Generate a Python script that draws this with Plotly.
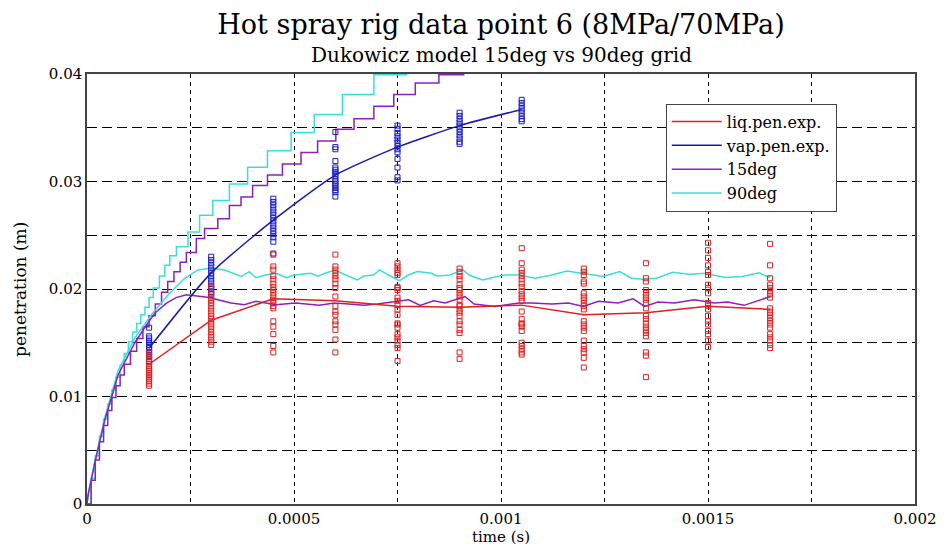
import plotly.graph_objects as go

# ---------------- data ----------------
exp_times = [0.00015, 0.0003, 0.00045, 0.0006, 0.00075, 0.0009, 0.00105,
             0.0012, 0.00135, 0.0015, 0.00165]

liq_mean = [0.0130, 0.0171, 0.0191, 0.0189, 0.0184, 0.0183, 0.0185,
            0.0176, 0.0178, 0.0184, 0.0181]

vap_times = [0.00015, 0.0003, 0.00045, 0.0006, 0.00075, 0.0009, 0.00105]
vap_mean = [0.0145, 0.0215, 0.0264, 0.0306, 0.0332, 0.0352, 0.0367]

liq_samples = [
    [0.0141, 0.0138, 0.0135, 0.0132, 0.0130, 0.0128, 0.0126, 0.0124, 0.0122,
     0.0120, 0.0118, 0.0116, 0.0114, 0.0112, 0.0110],
    [0.0202, 0.0196, 0.0193, 0.0190, 0.0187, 0.0184, 0.0181, 0.0178, 0.0175,
     0.0172, 0.0169, 0.0166, 0.0163, 0.0160, 0.0157, 0.0154, 0.0151, 0.0148],
    [0.0232, 0.0221, 0.0218, 0.0212, 0.0209, 0.0205, 0.0202, 0.0199, 0.0196,
     0.0193, 0.0190, 0.0187, 0.0184, 0.0182, 0.0170, 0.0165, 0.0158, 0.0147,
     0.0141],
    [0.0232, 0.0221, 0.0218, 0.0215, 0.0212, 0.0209, 0.0205, 0.0201, 0.0193,
     0.0184, 0.0179, 0.0176, 0.0170, 0.0167, 0.0162, 0.0153, 0.0141],
    [0.0224, 0.0221, 0.0218, 0.0215, 0.0213, 0.0202, 0.0201, 0.0199, 0.0192,
     0.0189, 0.0185, 0.0181, 0.0176, 0.0168, 0.0167, 0.0164, 0.0158, 0.0155,
     0.0152, 0.0148, 0.0145, 0.0133],
    [0.0219, 0.0216, 0.0212, 0.0209, 0.0204, 0.0201, 0.0199, 0.0196, 0.0193,
     0.0190, 0.0185, 0.0184, 0.0181, 0.0178, 0.0175, 0.0170, 0.0167, 0.0162,
     0.0159, 0.0141, 0.0135],
    [0.0238, 0.0224, 0.0218, 0.0215, 0.0212, 0.0209, 0.0205, 0.0202, 0.0198,
     0.0195, 0.0192, 0.0189, 0.0179, 0.0172, 0.0168, 0.0167, 0.0165, 0.0161,
     0.0150, 0.0147, 0.0144, 0.0141, 0.0139],
    [0.0219, 0.0216, 0.0213, 0.0207, 0.0205, 0.0196, 0.0193, 0.0190, 0.0187,
     0.0184, 0.0181, 0.0170, 0.0167, 0.0164, 0.0161, 0.0152, 0.0147, 0.0144,
     0.0141, 0.0136, 0.0127],
    [0.0224, 0.0210, 0.0207, 0.0199, 0.0196, 0.0193, 0.0190, 0.0187, 0.0182,
     0.0175, 0.0172, 0.0168, 0.0165, 0.0162, 0.0159, 0.0156, 0.0141, 0.0138,
     0.0118],
    [0.0243, 0.0236, 0.0229, 0.0222, 0.0216, 0.0213, 0.0204, 0.0201, 0.0196,
     0.0187, 0.0184, 0.0181, 0.0175, 0.0170, 0.0167, 0.0161, 0.0158, 0.0152,
     0.0146],
    [0.0242, 0.0222, 0.0210, 0.0204, 0.0201, 0.0198, 0.0195, 0.0192, 0.0182,
     0.0179, 0.0176, 0.0173, 0.0170, 0.0167, 0.0164, 0.0158, 0.0155, 0.0152,
     0.0148, 0.0145],
]

vap_samples = [
    [0.0164, 0.0156, 0.0154, 0.0152, 0.0150, 0.0148, 0.0146, 0.0145, 0.0143,
     0.0141, 0.0139, 0.0137, 0.0135, 0.0133],
    [0.0230, 0.0227, 0.0224, 0.0221, 0.0218, 0.0215, 0.0212, 0.0209, 0.0206,
     0.0203, 0.0200, 0.0197, 0.0195],
    [0.0284, 0.0281, 0.0278, 0.0275, 0.0272, 0.0269, 0.0266, 0.0263, 0.0260,
     0.0257, 0.0254, 0.0251, 0.0248, 0.0244, 0.0233],
    [0.0346, 0.0332, 0.0330, 0.0319, 0.0313, 0.0311, 0.0309, 0.0307, 0.0305,
     0.0302, 0.0300, 0.0298, 0.0296, 0.0294, 0.0292, 0.0290, 0.0286],
    [0.0352, 0.0349, 0.0345, 0.0342, 0.0339, 0.0336, 0.0333, 0.0330, 0.0327,
     0.0321, 0.0313, 0.0304, 0.0301],
    [0.0364, 0.0361, 0.0358, 0.0355, 0.0352, 0.0349, 0.0346, 0.0343, 0.0340,
     0.0337, 0.0335],
    [0.0376, 0.0373, 0.0370, 0.0367, 0.0364, 0.0361, 0.0358, 0.0356],
]

# simulated liquid penetration, 90deg grid
liq90_t = [0.0, 0.000003, 0.0000193, 0.000043, 0.000075, 0.0001155, 0.0001556,
           0.000196, 0.000236, 0.000268, 0.0003, 0.000332, 0.000372, 0.000392,
           0.000408, 0.000431, 0.000457, 0.000482, 0.0005, 0.000541, 0.000558,
           0.000569, 0.000598, 0.000626, 0.000653, 0.000669, 0.000692,
           0.000707, 0.000728, 0.000755, 0.000776, 0.000798, 0.000832,
           0.000845, 0.000876, 0.000908, 0.000923, 0.000955, 0.001007,
           0.001043, 0.001083, 0.001123, 0.001159, 0.001195, 0.001247,
           0.001287, 0.001315, 0.001343, 0.001375, 0.001415, 0.001455,
           0.001495, 0.001511, 0.001543, 0.001583, 0.001623, 0.001647,
           0.001651]
liq90_v = [0.0, 0.00098, 0.00406, 0.00806, 0.01238, 0.01545, 0.0176, 0.01946,
           0.0210, 0.02177, 0.02192, 0.02177, 0.02116, 0.02162, 0.02106,
           0.0213, 0.02146, 0.02106, 0.02130, 0.02146, 0.02120, 0.02138,
           0.02177, 0.0213, 0.02085, 0.0212, 0.02130, 0.02177, 0.0213,
           0.02078, 0.0213, 0.02162, 0.02146, 0.02121, 0.0213, 0.02177,
           0.0213, 0.02085, 0.0213, 0.0213, 0.02100, 0.0213, 0.02167,
           0.02146, 0.02116, 0.02162, 0.02100, 0.0209, 0.0210, 0.02155,
           0.02137, 0.02146, 0.02130, 0.02106, 0.02116, 0.02150, 0.02110,
           0.02116]

# simulated liquid penetration, 15deg grid
liq15_t = [0.0, 0.000003, 0.0000193, 0.000043, 0.000075, 0.0001155,
           0.000144, 0.000165, 0.000192, 0.000215, 0.00024, 0.000256,
           0.000268, 0.000296, 0.000316, 0.000348, 0.00038, 0.000408,
           0.000456, 0.000504, 0.000561, 0.000597, 0.000632, 0.000669,
           0.000701, 0.000749, 0.000777, 0.000805, 0.000837, 0.000865,
           0.000889, 0.000913, 0.000935, 0.00096, 0.000985, 0.001043,
           0.001075, 0.001123, 0.001163, 0.001199, 0.001235, 0.001283,
           0.001319, 0.001347, 0.001379, 0.001419, 0.001467, 0.001515,
           0.001547, 0.001587, 0.001627, 0.001651]
liq15_v = [0.0, 0.00090, 0.0039, 0.0078, 0.0120, 0.0150, 0.01668, 0.01780,
           0.01869, 0.0192, 0.01946, 0.0194, 0.0193, 0.0192, 0.0190, 0.01869,
           0.01853, 0.01885, 0.01853, 0.01869, 0.01848, 0.01869, 0.01860,
           0.01848, 0.01860, 0.01885, 0.01900, 0.01848, 0.01890, 0.01870,
           0.01900, 0.01930, 0.01860, 0.01848, 0.01838, 0.01869, 0.01869,
           0.01860, 0.01869, 0.01838, 0.01885, 0.01869, 0.01908, 0.01838,
           0.01878, 0.01869, 0.01900, 0.01869, 0.01878, 0.01848, 0.01900,
           0.01930]

# simulated vapour penetration (staircase), 90deg grid
vap90_t = [0.0, 0.00001, 0.00002, 0.00003, 0.00004, 0.00005, 0.00006,
           0.00007, 0.00008, 0.00009, 0.0001, 0.00011, 0.00012, 0.00013,
           0.00014, 0.00015, 0.00016, 0.000175, 0.000188, 0.0002, 0.000216,
           0.000244, 0.000272, 0.000304, 0.000344, 0.000388, 0.000436,
           0.000493, 0.000549, 0.000617, 0.000693, 0.000772]
vap90_v = [0.0, 0.0024, 0.0045, 0.0063, 0.0079, 0.0093, 0.0106, 0.0118,
           0.0129, 0.0140, 0.0151, 0.0160, 0.0168, 0.0176, 0.0183, 0.0192,
           0.0201, 0.0212, 0.0222, 0.0231, 0.02393, 0.02531, 0.02685,
           0.02823, 0.02977, 0.03132, 0.03285, 0.03455, 0.03624, 0.03809,
           0.03994, 0.0418]

# simulated vapour penetration (staircase), 15deg grid
vap15_t = [0.0, 0.00001, 0.00002, 0.00003, 0.00004, 0.00005, 0.00006,
           0.00007, 0.00008, 0.00009, 0.000105, 0.00012, 0.000135, 0.00015,
           0.000165, 0.00018, 0.000195, 0.00021, 0.000225, 0.00024,
           0.000264, 0.000284, 0.000316, 0.000344, 0.000372, 0.0004,
           0.000436, 0.000472, 0.000517, 0.000557, 0.000601, 0.000645,
           0.000693, 0.000741, 0.000793, 0.00085, 0.00091]
vap15_v = [0.0, 0.0022, 0.0041, 0.0058, 0.0073, 0.0087, 0.0099, 0.0110,
           0.0120, 0.0130, 0.0142, 0.0154, 0.0165, 0.0175, 0.0186, 0.0197,
           0.0207, 0.0216, 0.0225, 0.0234, 0.02469, 0.02562, 0.02654,
           0.02777, 0.02855, 0.02962, 0.0306, 0.03162, 0.0327, 0.03377,
           0.03485, 0.03584, 0.03701, 0.03809, 0.03917, 0.03994, 0.0418]

legend_names = ["liq.pen.exp.", "vap.pen.exp.", "15deg", "90deg"]
x_ticks = [0, 0.0005, 0.001, 0.0015, 0.002]
x_tick_text = ["0", "0.0005", "0.001", "0.0015", "0.002"]
y_ticks = [0, 0.01, 0.02, 0.03, 0.04]
y_tick_text = ["0", "0.01", "0.02", "0.03", "0.04"]

# ---------------- styles ----------------
RED = "#dd2020"
BLUE = "#1c1ccc"
NAVY = "#1a1aa8"
PURPLE = "#8a22b8"
CYAN = "#38dede"
FONT = "DejaVu Serif"

fig = go.Figure()

# simulated curves
fig.add_trace(go.Scatter(x=vap90_t, y=vap90_v, mode="lines", line_shape="hv",
                         line=dict(color=CYAN, width=1.5), showlegend=False))
fig.add_trace(go.Scatter(x=vap15_t, y=vap15_v, mode="lines", line_shape="hv",
                         line=dict(color=PURPLE, width=1.5), showlegend=False))
fig.add_trace(go.Scatter(x=liq90_t, y=liq90_v, mode="lines", name=legend_names[3],
                         line=dict(color=CYAN, width=1.5), legendrank=4))
fig.add_trace(go.Scatter(x=liq15_t, y=liq15_v, mode="lines", name=legend_names[2],
                         line=dict(color=PURPLE, width=1.5), legendrank=3))

# experimental samples
lx, ly = [], []
for t, vals in zip(exp_times, liq_samples):
    lx += [t] * len(vals)
    ly += vals
vx, vy = [], []
for t, vals in zip(vap_times, vap_samples):
    vx += [t] * len(vals)
    vy += vals

fig.add_trace(go.Scatter(x=vx, y=vy, mode="markers", showlegend=False,
                         marker=dict(symbol="square-open", size=5, color=BLUE,
                                     line=dict(width=1, color=BLUE))))
fig.add_trace(go.Scatter(x=lx, y=ly, mode="markers", showlegend=False,
                         marker=dict(symbol="square-open", size=5, color=RED,
                                     line=dict(width=1, color=RED))))

# experimental means
fig.add_trace(go.Scatter(x=vap_times, y=vap_mean, mode="lines", name=legend_names[1],
                         line=dict(color=NAVY, width=1.5, shape="spline", smoothing=0.6),
                         legendrank=2))
fig.add_trace(go.Scatter(x=exp_times, y=liq_mean, mode="lines", name=legend_names[0],
                         line=dict(color=RED, width=1.5), legendrank=1))

axis_common = dict(showline=True, linecolor="#444444", linewidth=1.5, mirror=True,
                   zeroline=False, ticks="", showgrid=True, gridcolor="black",
                   gridwidth=1, tickfont=dict(family=FONT, size=15, color="black"))

fig.update_xaxes(range=[0, 0.002], tickvals=x_ticks, ticktext=x_tick_text,
                 griddash="4px,4px",
                 minor=dict(tickvals=[0.00025, 0.00075, 0.00125, 0.00175],
                            showgrid=True, gridcolor="black", gridwidth=1,
                            griddash="4px,4px", ticks=""),
                 **axis_common)
fig.update_yaxes(range=[0, 0.04], tickvals=y_ticks, ticktext=y_tick_text,
                 griddash="10px,5px",
                 minor=dict(tickvals=[0.005, 0.015, 0.025, 0.035],
                            showgrid=True, gridcolor="black", gridwidth=1,
                            griddash="10px,5px", ticks=""),
                 **axis_common)

# page body adds an 8px offset, so the figure is 940x540 with margins shifted
fig.update_layout(
    width=940, height=540,
    margin=dict(l=79, r=30, t=66, b=44),
    paper_bgcolor="white", plot_bgcolor="white",
    font=dict(family=FONT, color="black"),
    title=dict(text="Hot spray rig data point 6 (8MPa/70MPa)", x=0.5, xref="paper",
               xanchor="center", y=0.969, yanchor="middle",
               font=dict(family=FONT, size=27, color="black")),
    legend=dict(x=0.699, y=0.931, xanchor="left", yanchor="top",
                bgcolor="white", bordercolor="#444444", borderwidth=1,
                font=dict(family=FONT, size=16, color="black"),
                tracegroupgap=0, itemwidth=50),
    annotations=[
        dict(text="Dukowicz model 15deg vs 90deg grid", xref="paper", yref="paper",
             x=0.5, y=1.044, xanchor="center", yanchor="middle", showarrow=False,
             font=dict(family=FONT, size=20, color="black")),
        dict(text="time (s)", xref="paper", yref="paper", x=0.5, y=-0.1,
             xanchor="center", yanchor="bottom", showarrow=False, borderpad=0,
             font=dict(family=FONT, size=15, color="black")),
        dict(text="penetration (m)", xref="paper", yref="paper", x=-0.081, y=0.5,
             xanchor="center", yanchor="middle", showarrow=False, textangle=-90,
             font=dict(family=FONT, size=17, color="black")),
    ],
)

fig.write_html("out.html")
